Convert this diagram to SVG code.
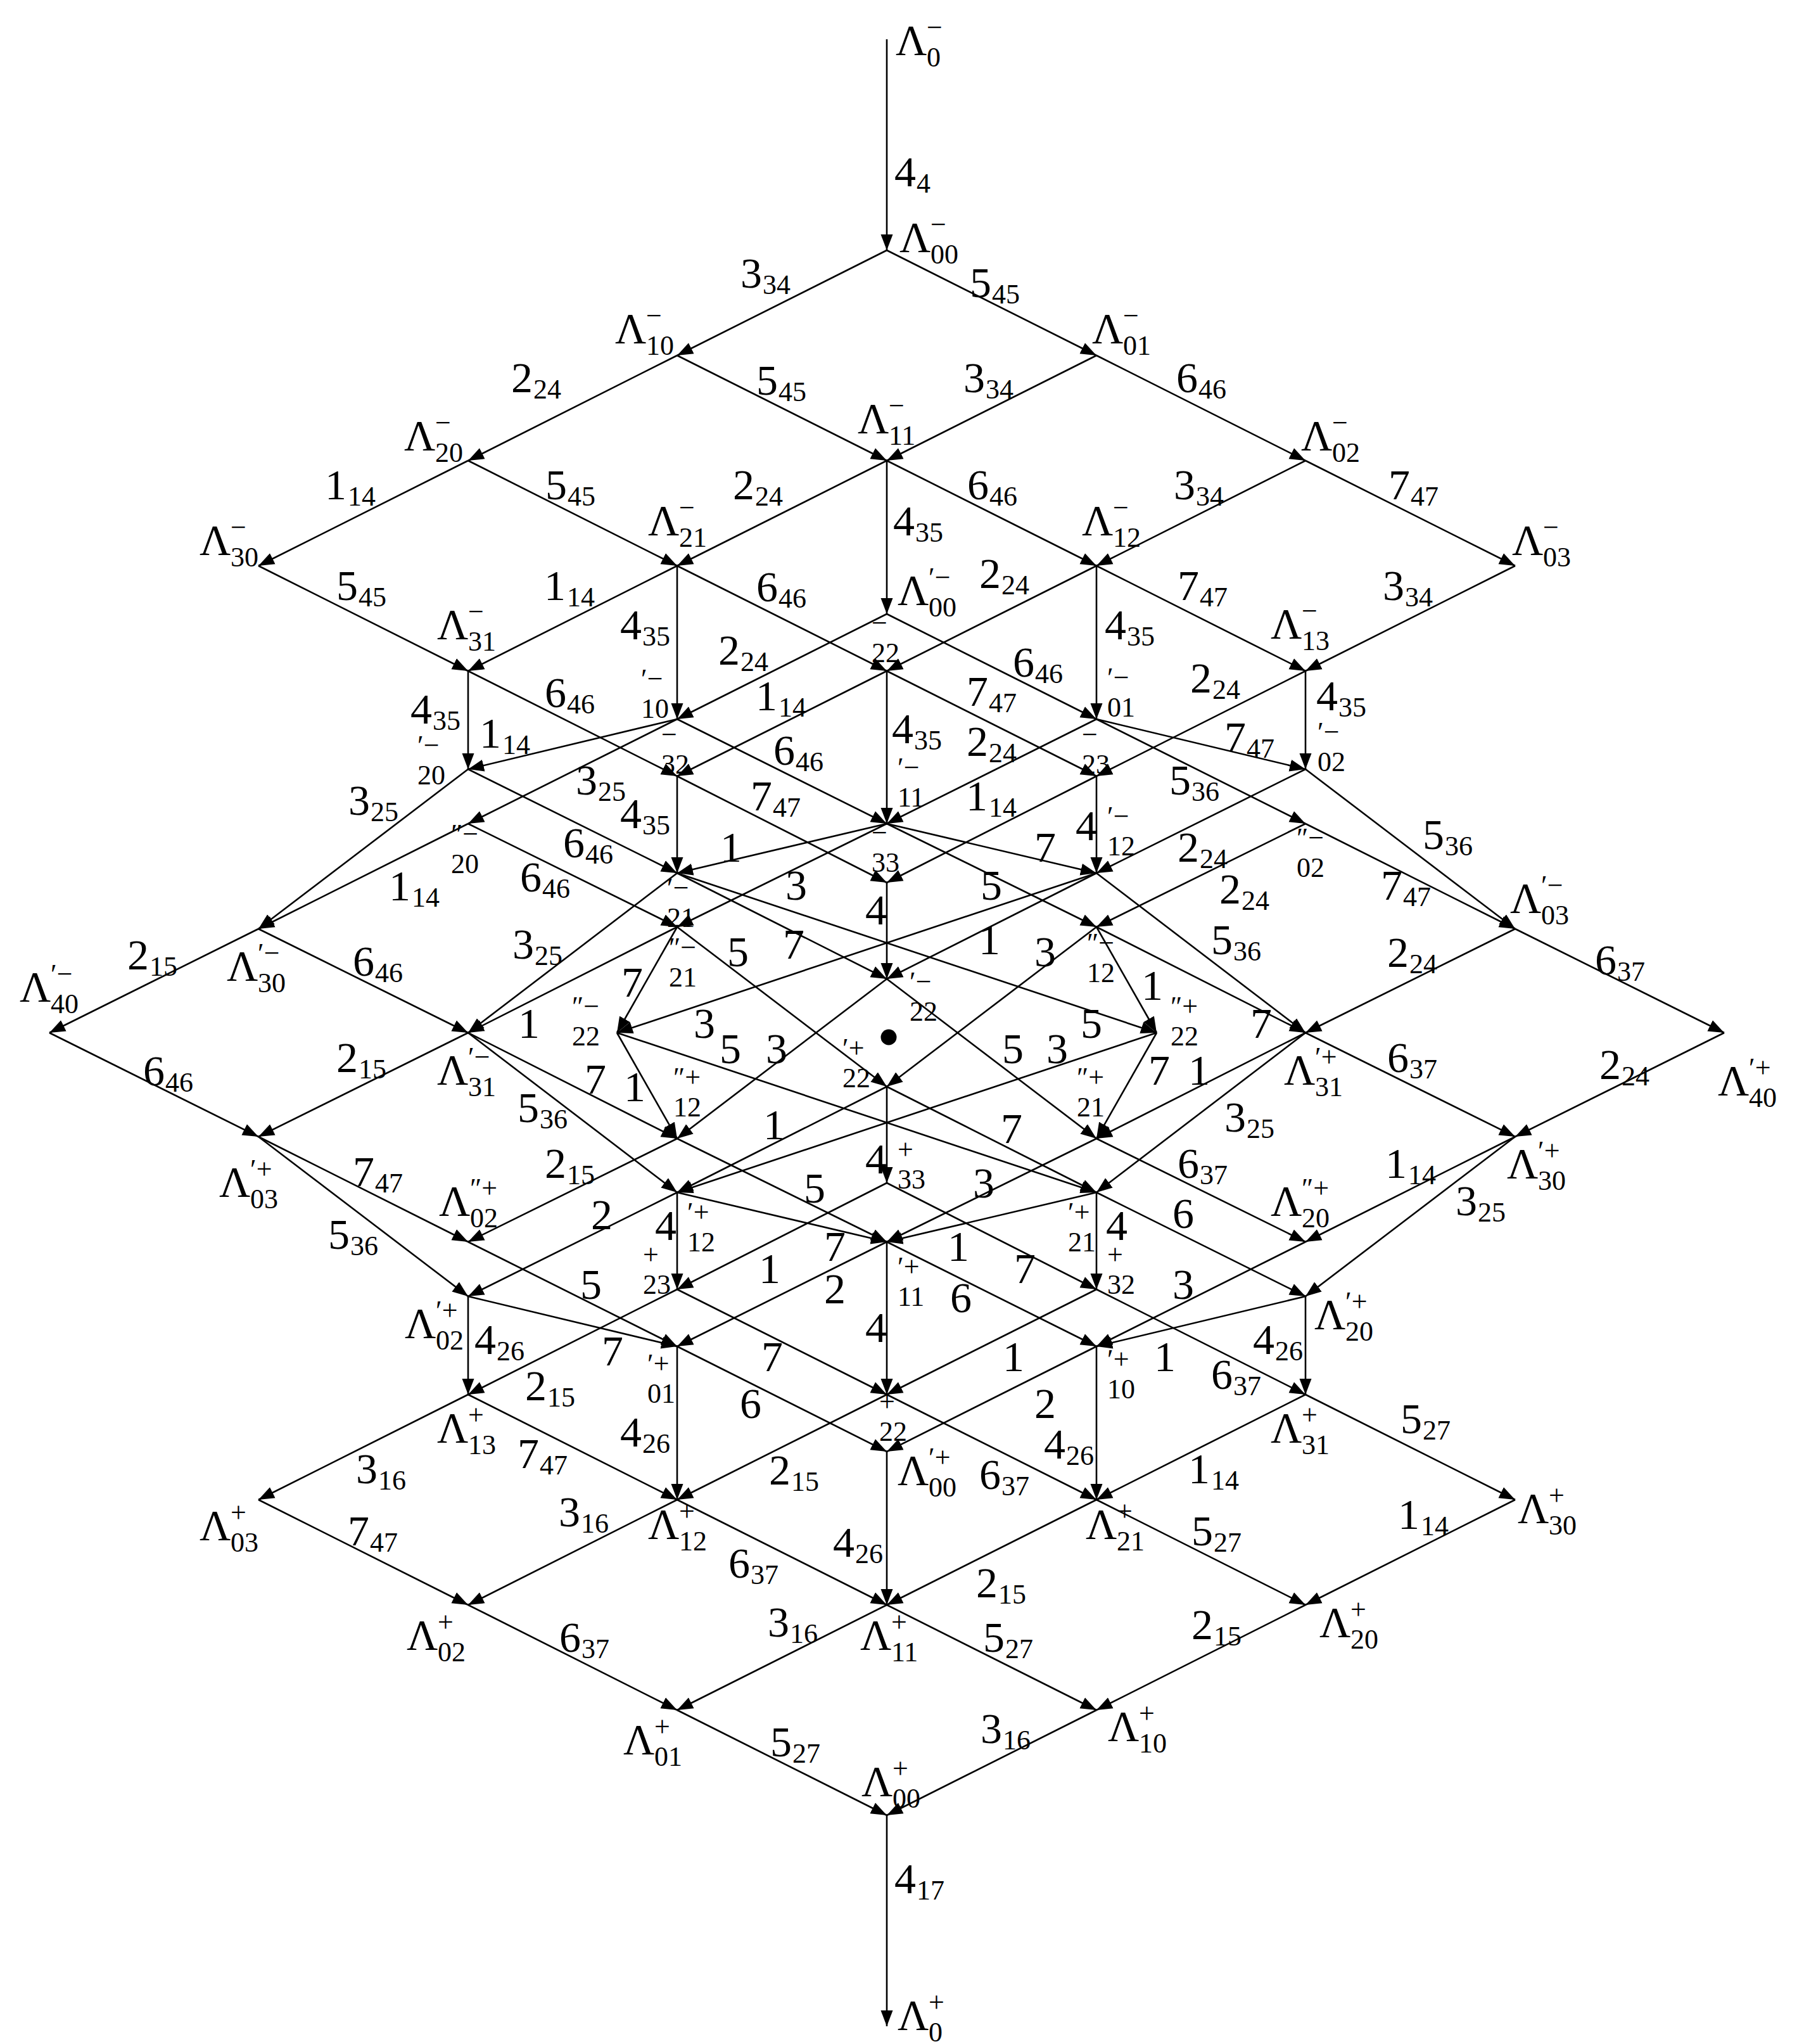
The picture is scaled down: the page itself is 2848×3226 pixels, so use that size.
<svg xmlns="http://www.w3.org/2000/svg" width="2848" height="3226" viewBox="0 0 2848 3226">
<style>
text{font-family:"Liberation Serif","DejaVu Serif",serif;font-size:68px;fill:#000}
.s{font-size:44px}
#edges line{stroke:#000;stroke-width:2.6;marker-end:url(#ah)}
</style>
<defs>
<marker id="ah" markerUnits="userSpaceOnUse" markerWidth="26" markerHeight="20" refX="25" refY="10" orient="auto"><path d="M0,0.5 L25,10 L0,19.5 z" fill="#000"/></marker>
</defs>
<rect width="2848" height="3226" fill="#fff"/>
<g id="edges">
<line x1="1400" y1="62" x2="1400" y2="395"/>
<line x1="1400" y1="395" x2="1069" y2="561"/>
<line x1="1400" y1="395" x2="1731" y2="561"/>
<line x1="1069" y1="561" x2="739" y2="727"/>
<line x1="1069" y1="561" x2="1400" y2="727"/>
<line x1="1731" y1="561" x2="1400" y2="727"/>
<line x1="1731" y1="561" x2="2061" y2="727"/>
<line x1="739" y1="727" x2="408" y2="893"/>
<line x1="739" y1="727" x2="1069" y2="893"/>
<line x1="1400" y1="727" x2="1069" y2="893"/>
<line x1="1400" y1="727" x2="1731" y2="893"/>
<line x1="2061" y1="727" x2="1731" y2="893"/>
<line x1="2061" y1="727" x2="2392" y2="893"/>
<line x1="1400" y1="727" x2="1400" y2="969"/>
<line x1="408" y1="893" x2="739" y2="1059"/>
<line x1="1069" y1="893" x2="739" y2="1059"/>
<line x1="1069" y1="893" x2="1400" y2="1059"/>
<line x1="1731" y1="893" x2="1400" y2="1059"/>
<line x1="1731" y1="893" x2="2061" y2="1059"/>
<line x1="2392" y1="893" x2="2061" y2="1059"/>
<line x1="1069" y1="893" x2="1069" y2="1135"/>
<line x1="1731" y1="893" x2="1731" y2="1135"/>
<line x1="1400" y1="969" x2="1069" y2="1135"/>
<line x1="1400" y1="969" x2="1731" y2="1135"/>
<line x1="739" y1="1059" x2="739" y2="1214"/>
<line x1="739" y1="1059" x2="1069" y2="1225"/>
<line x1="2061" y1="1059" x2="2061" y2="1214"/>
<line x1="2061" y1="1059" x2="1731" y2="1225"/>
<line x1="1400" y1="1059" x2="1400" y2="1300"/>
<line x1="1400" y1="1059" x2="1069" y2="1225"/>
<line x1="1400" y1="1059" x2="1731" y2="1225"/>
<line x1="1069" y1="1135" x2="1400" y2="1300"/>
<line x1="1731" y1="1135" x2="1400" y2="1300"/>
<line x1="1069" y1="1135" x2="739" y2="1214"/>
<line x1="1731" y1="1135" x2="2061" y2="1214"/>
<line x1="1069" y1="1135" x2="739" y2="1300"/>
<line x1="1731" y1="1135" x2="2061" y2="1300"/>
<line x1="739" y1="1214" x2="408" y2="1466"/>
<line x1="2061" y1="1214" x2="2392" y2="1466"/>
<line x1="739" y1="1300" x2="408" y2="1466"/>
<line x1="2061" y1="1300" x2="2392" y2="1466"/>
<line x1="739" y1="1214" x2="1069" y2="1378"/>
<line x1="2061" y1="1214" x2="1731" y2="1378"/>
<line x1="739" y1="1300" x2="1069" y2="1463"/>
<line x1="2061" y1="1300" x2="1731" y2="1463"/>
<line x1="1069" y1="1225" x2="1069" y2="1378"/>
<line x1="1731" y1="1225" x2="1731" y2="1378"/>
<line x1="1069" y1="1225" x2="1400" y2="1393"/>
<line x1="1731" y1="1225" x2="1400" y2="1393"/>
<line x1="1400" y1="1300" x2="1069" y2="1378"/>
<line x1="1400" y1="1300" x2="1731" y2="1378"/>
<line x1="1400" y1="1300" x2="1069" y2="1463"/>
<line x1="1400" y1="1300" x2="1731" y2="1463"/>
<line x1="1400" y1="1393" x2="1400" y2="1545"/>
<line x1="408" y1="1466" x2="78" y2="1630"/>
<line x1="408" y1="1466" x2="739" y2="1630"/>
<line x1="1069" y1="1378" x2="739" y2="1630"/>
<line x1="1069" y1="1463" x2="739" y2="1630"/>
<line x1="1069" y1="1463" x2="974" y2="1630"/>
<line x1="1069" y1="1378" x2="1400" y2="1545"/>
<line x1="1731" y1="1378" x2="1400" y2="1545"/>
<line x1="1731" y1="1378" x2="974" y2="1630"/>
<line x1="2392" y1="1466" x2="2061" y2="1630"/>
<line x1="2392" y1="1466" x2="2722" y2="1630"/>
<line x1="1731" y1="1378" x2="2061" y2="1630"/>
<line x1="1731" y1="1463" x2="2061" y2="1630"/>
<line x1="1731" y1="1463" x2="1826" y2="1630"/>
<line x1="1069" y1="1378" x2="1826" y2="1630"/>
<line x1="1069" y1="1463" x2="1400" y2="1715"/>
<line x1="1731" y1="1463" x2="1400" y2="1715"/>
<line x1="1400" y1="1545" x2="1069" y2="1797"/>
<line x1="1400" y1="1545" x2="1731" y2="1797"/>
<line x1="974" y1="1630" x2="1069" y2="1797"/>
<line x1="974" y1="1630" x2="1731" y2="1882"/>
<line x1="739" y1="1630" x2="408" y2="1794"/>
<line x1="739" y1="1630" x2="1069" y2="1797"/>
<line x1="739" y1="1630" x2="1069" y2="1882"/>
<line x1="78" y1="1630" x2="408" y2="1794"/>
<line x1="1400" y1="2865" x2="1400" y2="3198"/>
<line x1="1731" y1="2699" x2="1400" y2="2865"/>
<line x1="1069" y1="2699" x2="1400" y2="2865"/>
<line x1="2061" y1="2533" x2="1731" y2="2699"/>
<line x1="1400" y1="2533" x2="1731" y2="2699"/>
<line x1="1400" y1="2533" x2="1069" y2="2699"/>
<line x1="739" y1="2533" x2="1069" y2="2699"/>
<line x1="2392" y1="2367" x2="2061" y2="2533"/>
<line x1="1731" y1="2367" x2="2061" y2="2533"/>
<line x1="1731" y1="2367" x2="1400" y2="2533"/>
<line x1="1069" y1="2367" x2="1400" y2="2533"/>
<line x1="1069" y1="2367" x2="739" y2="2533"/>
<line x1="408" y1="2367" x2="739" y2="2533"/>
<line x1="1400" y1="2291" x2="1400" y2="2533"/>
<line x1="2061" y1="2201" x2="2392" y2="2367"/>
<line x1="2061" y1="2201" x2="1731" y2="2367"/>
<line x1="1400" y1="2201" x2="1731" y2="2367"/>
<line x1="1400" y1="2201" x2="1069" y2="2367"/>
<line x1="739" y1="2201" x2="1069" y2="2367"/>
<line x1="739" y1="2201" x2="408" y2="2367"/>
<line x1="1731" y1="2125" x2="1731" y2="2367"/>
<line x1="1069" y1="2125" x2="1069" y2="2367"/>
<line x1="1731" y1="2125" x2="1400" y2="2291"/>
<line x1="1069" y1="2125" x2="1400" y2="2291"/>
<line x1="2061" y1="2046" x2="2061" y2="2201"/>
<line x1="1731" y1="2035" x2="2061" y2="2201"/>
<line x1="739" y1="2046" x2="739" y2="2201"/>
<line x1="1069" y1="2035" x2="739" y2="2201"/>
<line x1="1400" y1="1960" x2="1400" y2="2201"/>
<line x1="1731" y1="2035" x2="1400" y2="2201"/>
<line x1="1069" y1="2035" x2="1400" y2="2201"/>
<line x1="1400" y1="1960" x2="1731" y2="2125"/>
<line x1="1400" y1="1960" x2="1069" y2="2125"/>
<line x1="2061" y1="2046" x2="1731" y2="2125"/>
<line x1="739" y1="2046" x2="1069" y2="2125"/>
<line x1="2061" y1="1960" x2="1731" y2="2125"/>
<line x1="739" y1="1960" x2="1069" y2="2125"/>
<line x1="2392" y1="1794" x2="2061" y2="2046"/>
<line x1="408" y1="1794" x2="739" y2="2046"/>
<line x1="2392" y1="1794" x2="2061" y2="1960"/>
<line x1="408" y1="1794" x2="739" y2="1960"/>
<line x1="1731" y1="1882" x2="2061" y2="2046"/>
<line x1="1069" y1="1882" x2="739" y2="2046"/>
<line x1="1731" y1="1797" x2="2061" y2="1960"/>
<line x1="1069" y1="1797" x2="739" y2="1960"/>
<line x1="1731" y1="1882" x2="1731" y2="2035"/>
<line x1="1069" y1="1882" x2="1069" y2="2035"/>
<line x1="1400" y1="1867" x2="1731" y2="2035"/>
<line x1="1400" y1="1867" x2="1069" y2="2035"/>
<line x1="1731" y1="1882" x2="1400" y2="1960"/>
<line x1="1069" y1="1882" x2="1400" y2="1960"/>
<line x1="1731" y1="1797" x2="1400" y2="1960"/>
<line x1="1069" y1="1797" x2="1400" y2="1960"/>
<line x1="1400" y1="1715" x2="1400" y2="1867"/>
<line x1="2722" y1="1630" x2="2392" y2="1794"/>
<line x1="2061" y1="1630" x2="2392" y2="1794"/>
<line x1="2061" y1="1630" x2="1731" y2="1882"/>
<line x1="2061" y1="1630" x2="1731" y2="1797"/>
<line x1="1826" y1="1630" x2="1731" y2="1797"/>
<line x1="1400" y1="1715" x2="1731" y2="1882"/>
<line x1="1400" y1="1715" x2="1069" y2="1882"/>
<line x1="1826" y1="1630" x2="1069" y2="1882"/>
</g>
<g id="edge-labels">
<text x="1412" y="294">4<tspan class="s" x="1447" y="304">4</tspan></text>
<text x="1169" y="454">3<tspan class="s" x="1204" y="464">34</tspan></text>
<text x="1531" y="469">5<tspan class="s" x="1566" y="479">45</tspan></text>
<text x="807" y="619">2<tspan class="s" x="842" y="629">24</tspan></text>
<text x="1194" y="623">5<tspan class="s" x="1229" y="633">45</tspan></text>
<text x="1521" y="619">3<tspan class="s" x="1556" y="629">34</tspan></text>
<text x="1857" y="619">6<tspan class="s" x="1892" y="629">46</tspan></text>
<text x="513" y="788">1<tspan class="s" x="549" y="798">14</tspan></text>
<text x="861" y="788">5<tspan class="s" x="896" y="798">45</tspan></text>
<text x="1157" y="788">2<tspan class="s" x="1192" y="798">24</tspan></text>
<text x="1527" y="788">6<tspan class="s" x="1562" y="798">46</tspan></text>
<text x="1853" y="788">3<tspan class="s" x="1888" y="798">34</tspan></text>
<text x="2192" y="788">7<tspan class="s" x="2227" y="798">47</tspan></text>
<text x="1410" y="845">4<tspan class="s" x="1445" y="855">35</tspan></text>
<text x="531" y="947">5<tspan class="s" x="566" y="957">45</tspan></text>
<text x="859" y="947">1<tspan class="s" x="895" y="957">14</tspan></text>
<text x="1194" y="949">6<tspan class="s" x="1229" y="959">46</tspan></text>
<text x="1546" y="928">2<tspan class="s" x="1581" y="938">24</tspan></text>
<text x="1859" y="947">7<tspan class="s" x="1894" y="957">47</tspan></text>
<text x="2183" y="947">3<tspan class="s" x="2218" y="957">34</tspan></text>
<text x="979" y="1009">4<tspan class="s" x="1014" y="1019">35</tspan></text>
<text x="1744" y="1009">4<tspan class="s" x="1779" y="1019">35</tspan></text>
<text x="1134" y="1049">2<tspan class="s" x="1169" y="1059">24</tspan></text>
<text x="1599" y="1068">6<tspan class="s" x="1634" y="1078">46</tspan></text>
<text x="648" y="1142">4<tspan class="s" x="683" y="1152">35</tspan></text>
<text x="860" y="1116">6<tspan class="s" x="895" y="1126">46</tspan></text>
<text x="2078" y="1121">4<tspan class="s" x="2113" y="1131">35</tspan></text>
<text x="1879" y="1093">2<tspan class="s" x="1914" y="1103">24</tspan></text>
<text x="1408" y="1173">4<tspan class="s" x="1443" y="1183">35</tspan></text>
<text x="1193" y="1121">1<tspan class="s" x="1229" y="1131">14</tspan></text>
<text x="1526" y="1114">7<tspan class="s" x="1561" y="1124">47</tspan></text>
<text x="1221" y="1207">6<tspan class="s" x="1256" y="1217">46</tspan></text>
<text x="1526" y="1193">2<tspan class="s" x="1561" y="1203">24</tspan></text>
<text x="757" y="1180">1<tspan class="s" x="793" y="1190">14</tspan></text>
<text x="1933" y="1186">7<tspan class="s" x="1968" y="1196">47</tspan></text>
<text x="909" y="1254">3<tspan class="s" x="944" y="1264">25</tspan></text>
<text x="1846" y="1254">5<tspan class="s" x="1881" y="1264">36</tspan></text>
<text x="550" y="1286">3<tspan class="s" x="585" y="1296">25</tspan></text>
<text x="2246" y="1340">5<tspan class="s" x="2281" y="1350">36</tspan></text>
<text x="614" y="1421">1<tspan class="s" x="650" y="1431">14</tspan></text>
<text x="2180" y="1420">7<tspan class="s" x="2215" y="1430">47</tspan></text>
<text x="889" y="1353">6<tspan class="s" x="924" y="1363">46</tspan></text>
<text x="1859" y="1360">2<tspan class="s" x="1894" y="1370">24</tspan></text>
<text x="821" y="1407">6<tspan class="s" x="856" y="1417">46</tspan></text>
<text x="1925" y="1426">2<tspan class="s" x="1960" y="1436">24</tspan></text>
<text x="979" y="1307">4<tspan class="s" x="1014" y="1317">35</tspan></text>
<text x="1698" y="1326">4</text>
<text x="1185" y="1279">7<tspan class="s" x="1220" y="1289">47</tspan></text>
<text x="1525" y="1279">1<tspan class="s" x="1561" y="1289">14</tspan></text>
<text x="1137" y="1360">1</text>
<text x="1633" y="1360">7</text>
<text x="1240" y="1420">3</text>
<text x="1548" y="1420">5</text>
<text x="1366" y="1459">4</text>
<text x="201" y="1530">2<tspan class="s" x="236" y="1540">15</tspan></text>
<text x="557" y="1540">6<tspan class="s" x="592" y="1550">46</tspan></text>
<text x="809" y="1513">3<tspan class="s" x="844" y="1523">25</tspan></text>
<text x="818" y="1638">1</text>
<text x="981" y="1573">7</text>
<text x="1236" y="1513">7</text>
<text x="1545" y="1506">1</text>
<text x="1095" y="1638">3</text>
<text x="2190" y="1526">2<tspan class="s" x="2225" y="1536">24</tspan></text>
<text x="2518" y="1538">6<tspan class="s" x="2553" y="1548">37</tspan></text>
<text x="1912" y="1506">5<tspan class="s" x="1947" y="1516">36</tspan></text>
<text x="1974" y="1638">7</text>
<text x="1802" y="1578">1</text>
<text x="1706" y="1638">5</text>
<text x="1148" y="1525">5</text>
<text x="1633" y="1525">3</text>
<text x="1209" y="1678">3</text>
<text x="1582" y="1678">5</text>
<text x="985" y="1738">1</text>
<text x="1136" y="1678">5</text>
<text x="531" y="1692">2<tspan class="s" x="566" y="1702">15</tspan></text>
<text x="923" y="1726">7</text>
<text x="817" y="1771">5<tspan class="s" x="852" y="1781">36</tspan></text>
<text x="226" y="1713">6<tspan class="s" x="261" y="1723">46</tspan></text>
<text x="1412" y="2988">4<tspan class="s" x="1447" y="2998">17</tspan></text>
<text x="1548" y="2751">3<tspan class="s" x="1583" y="2761">16</tspan></text>
<text x="1216" y="2772">5<tspan class="s" x="1251" y="2782">27</tspan></text>
<text x="1881" y="2587">2<tspan class="s" x="1916" y="2597">15</tspan></text>
<text x="1552" y="2607">5<tspan class="s" x="1587" y="2617">27</tspan></text>
<text x="1212" y="2583">3<tspan class="s" x="1247" y="2593">16</tspan></text>
<text x="883" y="2607">6<tspan class="s" x="918" y="2617">37</tspan></text>
<text x="2207" y="2413">1<tspan class="s" x="2243" y="2423">14</tspan></text>
<text x="1881" y="2439">5<tspan class="s" x="1916" y="2449">27</tspan></text>
<text x="1541" y="2521">2<tspan class="s" x="1576" y="2531">15</tspan></text>
<text x="1150" y="2490">6<tspan class="s" x="1185" y="2500">37</tspan></text>
<text x="882" y="2409">3<tspan class="s" x="917" y="2419">16</tspan></text>
<text x="549" y="2439">7<tspan class="s" x="584" y="2449">47</tspan></text>
<text x="1315" y="2457">4<tspan class="s" x="1350" y="2467">26</tspan></text>
<text x="2211" y="2262">5<tspan class="s" x="2246" y="2272">27</tspan></text>
<text x="1876" y="2341">1<tspan class="s" x="1912" y="2351">14</tspan></text>
<text x="1546" y="2350">6<tspan class="s" x="1581" y="2360">37</tspan></text>
<text x="1214" y="2343">2<tspan class="s" x="1249" y="2353">15</tspan></text>
<text x="817" y="2317">7<tspan class="s" x="852" y="2327">47</tspan></text>
<text x="562" y="2341">3<tspan class="s" x="597" y="2351">16</tspan></text>
<text x="1648" y="2302">4<tspan class="s" x="1683" y="2312">26</tspan></text>
<text x="979" y="2283">4<tspan class="s" x="1014" y="2293">26</tspan></text>
<text x="1633" y="2238">2</text>
<text x="1168" y="2238">6</text>
<text x="1978" y="2137">4<tspan class="s" x="2013" y="2147">26</tspan></text>
<text x="1912" y="2192">6<tspan class="s" x="1947" y="2202">37</tspan></text>
<text x="749" y="2137">4<tspan class="s" x="784" y="2147">26</tspan></text>
<text x="829" y="2210">2<tspan class="s" x="864" y="2220">15</tspan></text>
<text x="1366" y="2118">4</text>
<text x="1583" y="2164">1</text>
<text x="1202" y="2164">7</text>
<text x="1500" y="2071">6</text>
<text x="1301" y="2057">2</text>
<text x="1822" y="2164">1</text>
<text x="950" y="2155">7</text>
<text x="1851" y="2050">3</text>
<text x="916" y="2050">5</text>
<text x="2298" y="1918">3<tspan class="s" x="2333" y="1928">25</tspan></text>
<text x="518" y="1971">5<tspan class="s" x="553" y="1981">36</tspan></text>
<text x="2187" y="1859">1<tspan class="s" x="2223" y="1869">14</tspan></text>
<text x="557" y="1872">7<tspan class="s" x="592" y="1882">47</tspan></text>
<text x="1851" y="1938">6</text>
<text x="933" y="1940">2</text>
<text x="1859" y="1859">6<tspan class="s" x="1894" y="1869">37</tspan></text>
<text x="860" y="1859">2<tspan class="s" x="895" y="1869">15</tspan></text>
<text x="1746" y="1957">4</text>
<text x="1034" y="1957">4</text>
<text x="1601" y="2025">7</text>
<text x="1198" y="2025">1</text>
<text x="1496" y="1990">1</text>
<text x="1301" y="1990">7</text>
<text x="1536" y="1890">3</text>
<text x="1269" y="1898">5</text>
<text x="1366" y="1852">4</text>
<text x="2525" y="1703">2<tspan class="s" x="2560" y="1713">24</tspan></text>
<text x="2190" y="1692">6<tspan class="s" x="2225" y="1702">37</tspan></text>
<text x="1933" y="1786">3<tspan class="s" x="1968" y="1796">25</tspan></text>
<text x="1876" y="1712">1</text>
<text x="1813" y="1712">7</text>
<text x="1580" y="1804">7</text>
<text x="1205" y="1798">1</text>
<text x="1652" y="1678">3</text>
</g>
<circle id="dot" cx="1403" cy="1637" r="12.5" fill="#000"/>
<g id="L0m"><text x="1414" y="86">Λ</text><text class="s" x="1463" y="58">−</text><text class="s" x="1463" y="105">0</text></g>
<g id="A00m"><text x="1420" y="397">Λ</text><text class="s" x="1469" y="369">−</text><text class="s" x="1469" y="416">00</text></g>
<g id="A10m"><text x="971" y="541">Λ</text><text class="s" x="1020" y="513">−</text><text class="s" x="1020" y="560">10</text></g>
<g id="A01m"><text x="1724" y="541">Λ</text><text class="s" x="1773" y="513">−</text><text class="s" x="1773" y="560">01</text></g>
<g id="A20m"><text x="638" y="710">Λ</text><text class="s" x="687" y="682">−</text><text class="s" x="687" y="729">20</text></g>
<g id="A11m"><text x="1354" y="683">Λ</text><text class="s" x="1403" y="655">−</text><text class="s" x="1403" y="702">11</text></g>
<g id="A02m"><text x="2054" y="710">Λ</text><text class="s" x="2103" y="682">−</text><text class="s" x="2103" y="729">02</text></g>
<g id="A30m"><text x="315" y="875">Λ</text><text class="s" x="364" y="847">−</text><text class="s" x="364" y="894">30</text></g>
<g id="A21m"><text x="1023" y="844">Λ</text><text class="s" x="1072" y="816">−</text><text class="s" x="1072" y="863">21</text></g>
<g id="A12m"><text x="1708" y="844">Λ</text><text class="s" x="1757" y="816">−</text><text class="s" x="1757" y="863">12</text></g>
<g id="A03m"><text x="2387" y="875">Λ</text><text class="s" x="2436" y="847">−</text><text class="s" x="2436" y="894">03</text></g>
<g id="P00m"><text x="1417" y="954">Λ</text><text class="s" x="1466" y="926">′−</text><text class="s" x="1466" y="973">00</text></g>
<g id="A31m"><text x="690" y="1008">Λ</text><text class="s" x="739" y="980">−</text><text class="s" x="739" y="1027">31</text></g>
<g id="A13m"><text x="2006" y="1007">Λ</text><text class="s" x="2055" y="979">−</text><text class="s" x="2055" y="1026">13</text></g>
<g id="P30m"><text x="358" y="1547">Λ</text><text class="s" x="407" y="1519">′−</text><text class="s" x="407" y="1566">30</text></g>
<g id="P03m"><text x="2384" y="1440">Λ</text><text class="s" x="2433" y="1412">′−</text><text class="s" x="2433" y="1459">03</text></g>
<g id="P40m"><text x="31" y="1580">Λ</text><text class="s" x="80" y="1552">′−</text><text class="s" x="80" y="1599">40</text></g>
<g id="P31m"><text x="690" y="1711">Λ</text><text class="s" x="739" y="1683">′−</text><text class="s" x="739" y="1730">31</text></g>
<g id="P31p"><text x="2027" y="1711">Λ</text><text class="s" x="2076" y="1683">′+</text><text class="s" x="2076" y="1730">31</text></g>
<g id="P40p"><text x="2712" y="1728">Λ</text><text class="s" x="2761" y="1700">′+</text><text class="s" x="2761" y="1747">40</text></g>
<g id="P30p"><text x="2379" y="1859">Λ</text><text class="s" x="2428" y="1831">′+</text><text class="s" x="2428" y="1878">30</text></g>
<g id="P03p"><text x="346" y="1888">Λ</text><text class="s" x="395" y="1860">′+</text><text class="s" x="395" y="1907">03</text></g>
<g id="Q02p"><text x="693" y="1918">Λ</text><text class="s" x="742" y="1890">″+</text><text class="s" x="742" y="1937">02</text></g>
<g id="Q20p"><text x="2006" y="1918">Λ</text><text class="s" x="2055" y="1890">″+</text><text class="s" x="2055" y="1937">20</text></g>
<g id="P02p"><text x="639" y="2111">Λ</text><text class="s" x="688" y="2083">′+</text><text class="s" x="688" y="2130">02</text></g>
<g id="P20p"><text x="2075" y="2097">Λ</text><text class="s" x="2124" y="2069">′+</text><text class="s" x="2124" y="2116">20</text></g>
<g id="A13p"><text x="690" y="2276">Λ</text><text class="s" x="739" y="2248">+</text><text class="s" x="739" y="2295">13</text></g>
<g id="A31p"><text x="2006" y="2276">Λ</text><text class="s" x="2055" y="2248">+</text><text class="s" x="2055" y="2295">31</text></g>
<g id="P00p"><text x="1417" y="2343">Λ</text><text class="s" x="1466" y="2315">′+</text><text class="s" x="1466" y="2362">00</text></g>
<g id="A03p"><text x="315" y="2430">Λ</text><text class="s" x="364" y="2402">+</text><text class="s" x="364" y="2449">03</text></g>
<g id="A12p"><text x="1023" y="2428">Λ</text><text class="s" x="1072" y="2400">+</text><text class="s" x="1072" y="2447">12</text></g>
<g id="A21p"><text x="1714" y="2428">Λ</text><text class="s" x="1763" y="2400">+</text><text class="s" x="1763" y="2447">21</text></g>
<g id="A30p"><text x="2396" y="2403">Λ</text><text class="s" x="2445" y="2375">+</text><text class="s" x="2445" y="2422">30</text></g>
<g id="A02p"><text x="642" y="2603">Λ</text><text class="s" x="691" y="2575">+</text><text class="s" x="691" y="2622">02</text></g>
<g id="A11p"><text x="1358" y="2603">Λ</text><text class="s" x="1407" y="2575">+</text><text class="s" x="1407" y="2622">11</text></g>
<g id="A20p"><text x="2083" y="2583">Λ</text><text class="s" x="2132" y="2555">+</text><text class="s" x="2132" y="2602">20</text></g>
<g id="A01p"><text x="984" y="2768">Λ</text><text class="s" x="1033" y="2740">+</text><text class="s" x="1033" y="2787">01</text></g>
<g id="A10p"><text x="1749" y="2747">Λ</text><text class="s" x="1798" y="2719">+</text><text class="s" x="1798" y="2766">10</text></g>
<g id="A00p"><text x="1360" y="2834">Λ</text><text class="s" x="1409" y="2806">+</text><text class="s" x="1409" y="2853">00</text></g>
<g id="L0p"><text x="1417" y="3203">Λ</text><text class="s" x="1466" y="3175">+</text><text class="s" x="1466" y="3222">0</text></g>
<g id="A22m"><text class="s" x="1376" y="998">−</text><text class="s" x="1376" y="1045">22</text></g>
<g id="P10m"><text class="s" x="1012" y="1086">′−</text><text class="s" x="1012" y="1133">10</text></g>
<g id="P01m"><text class="s" x="1748" y="1084">′−</text><text class="s" x="1748" y="1131">01</text></g>
<g id="P20m"><text class="s" x="659" y="1191">′−</text><text class="s" x="659" y="1238">20</text></g>
<g id="P02m"><text class="s" x="2080" y="1170">′−</text><text class="s" x="2080" y="1217">02</text></g>
<g id="A32m"><text class="s" x="1044" y="1174">−</text><text class="s" x="1044" y="1221">32</text></g>
<g id="A23m"><text class="s" x="1708" y="1174">−</text><text class="s" x="1708" y="1221">23</text></g>
<g id="Q20m"><text class="s" x="712" y="1331">″−</text><text class="s" x="712" y="1378">20</text></g>
<g id="Q02m"><text class="s" x="2047" y="1337">″−</text><text class="s" x="2047" y="1384">02</text></g>
<g id="P11m"><text class="s" x="1417" y="1226">′−</text><text class="s" x="1417" y="1273">11</text></g>
<g id="P12m"><text class="s" x="1748" y="1303">′−</text><text class="s" x="1748" y="1350">12</text></g>
<g id="A33m"><text class="s" x="1376" y="1329">−</text><text class="s" x="1376" y="1376">33</text></g>
<g id="P21m"><text class="s" x="1053" y="1416">′−</text><text class="s" x="1053" y="1463">21</text></g>
<g id="Q21m"><text class="s" x="1056" y="1510">″−</text><text class="s" x="1056" y="1557">21</text></g>
<g id="Q12m"><text class="s" x="1716" y="1503">″−</text><text class="s" x="1716" y="1550">12</text></g>
<g id="P22m"><text class="s" x="1436" y="1564">′−</text><text class="s" x="1436" y="1611">22</text></g>
<g id="Q22m"><text class="s" x="903" y="1603">″−</text><text class="s" x="903" y="1650">22</text></g>
<g id="Q22p"><text class="s" x="1848" y="1603">″+</text><text class="s" x="1848" y="1650">22</text></g>
<g id="P22p"><text class="s" x="1330" y="1669">′+</text><text class="s" x="1330" y="1716">22</text></g>
<g id="Q12p"><text class="s" x="1063" y="1715">″+</text><text class="s" x="1063" y="1762">12</text></g>
<g id="Q21p"><text class="s" x="1700" y="1715">″+</text><text class="s" x="1700" y="1762">21</text></g>
<g id="A33p"><text class="s" x="1417" y="1829">+</text><text class="s" x="1417" y="1876">33</text></g>
<g id="P12p"><text class="s" x="1085" y="1928">′+</text><text class="s" x="1085" y="1975">12</text></g>
<g id="P21p"><text class="s" x="1686" y="1928">′+</text><text class="s" x="1686" y="1975">21</text></g>
<g id="A23p"><text class="s" x="1015" y="1995">+</text><text class="s" x="1015" y="2042">23</text></g>
<g id="A32p"><text class="s" x="1748" y="1995">+</text><text class="s" x="1748" y="2042">32</text></g>
<g id="P11p"><text class="s" x="1417" y="2014">′+</text><text class="s" x="1417" y="2061">11</text></g>
<g id="P01p"><text class="s" x="1022" y="2167">′+</text><text class="s" x="1022" y="2214">01</text></g>
<g id="P10p"><text class="s" x="1748" y="2160">′+</text><text class="s" x="1748" y="2207">10</text></g>
<g id="A22p"><text class="s" x="1388" y="2227">+</text><text class="s" x="1388" y="2274">22</text></g>
</svg>
